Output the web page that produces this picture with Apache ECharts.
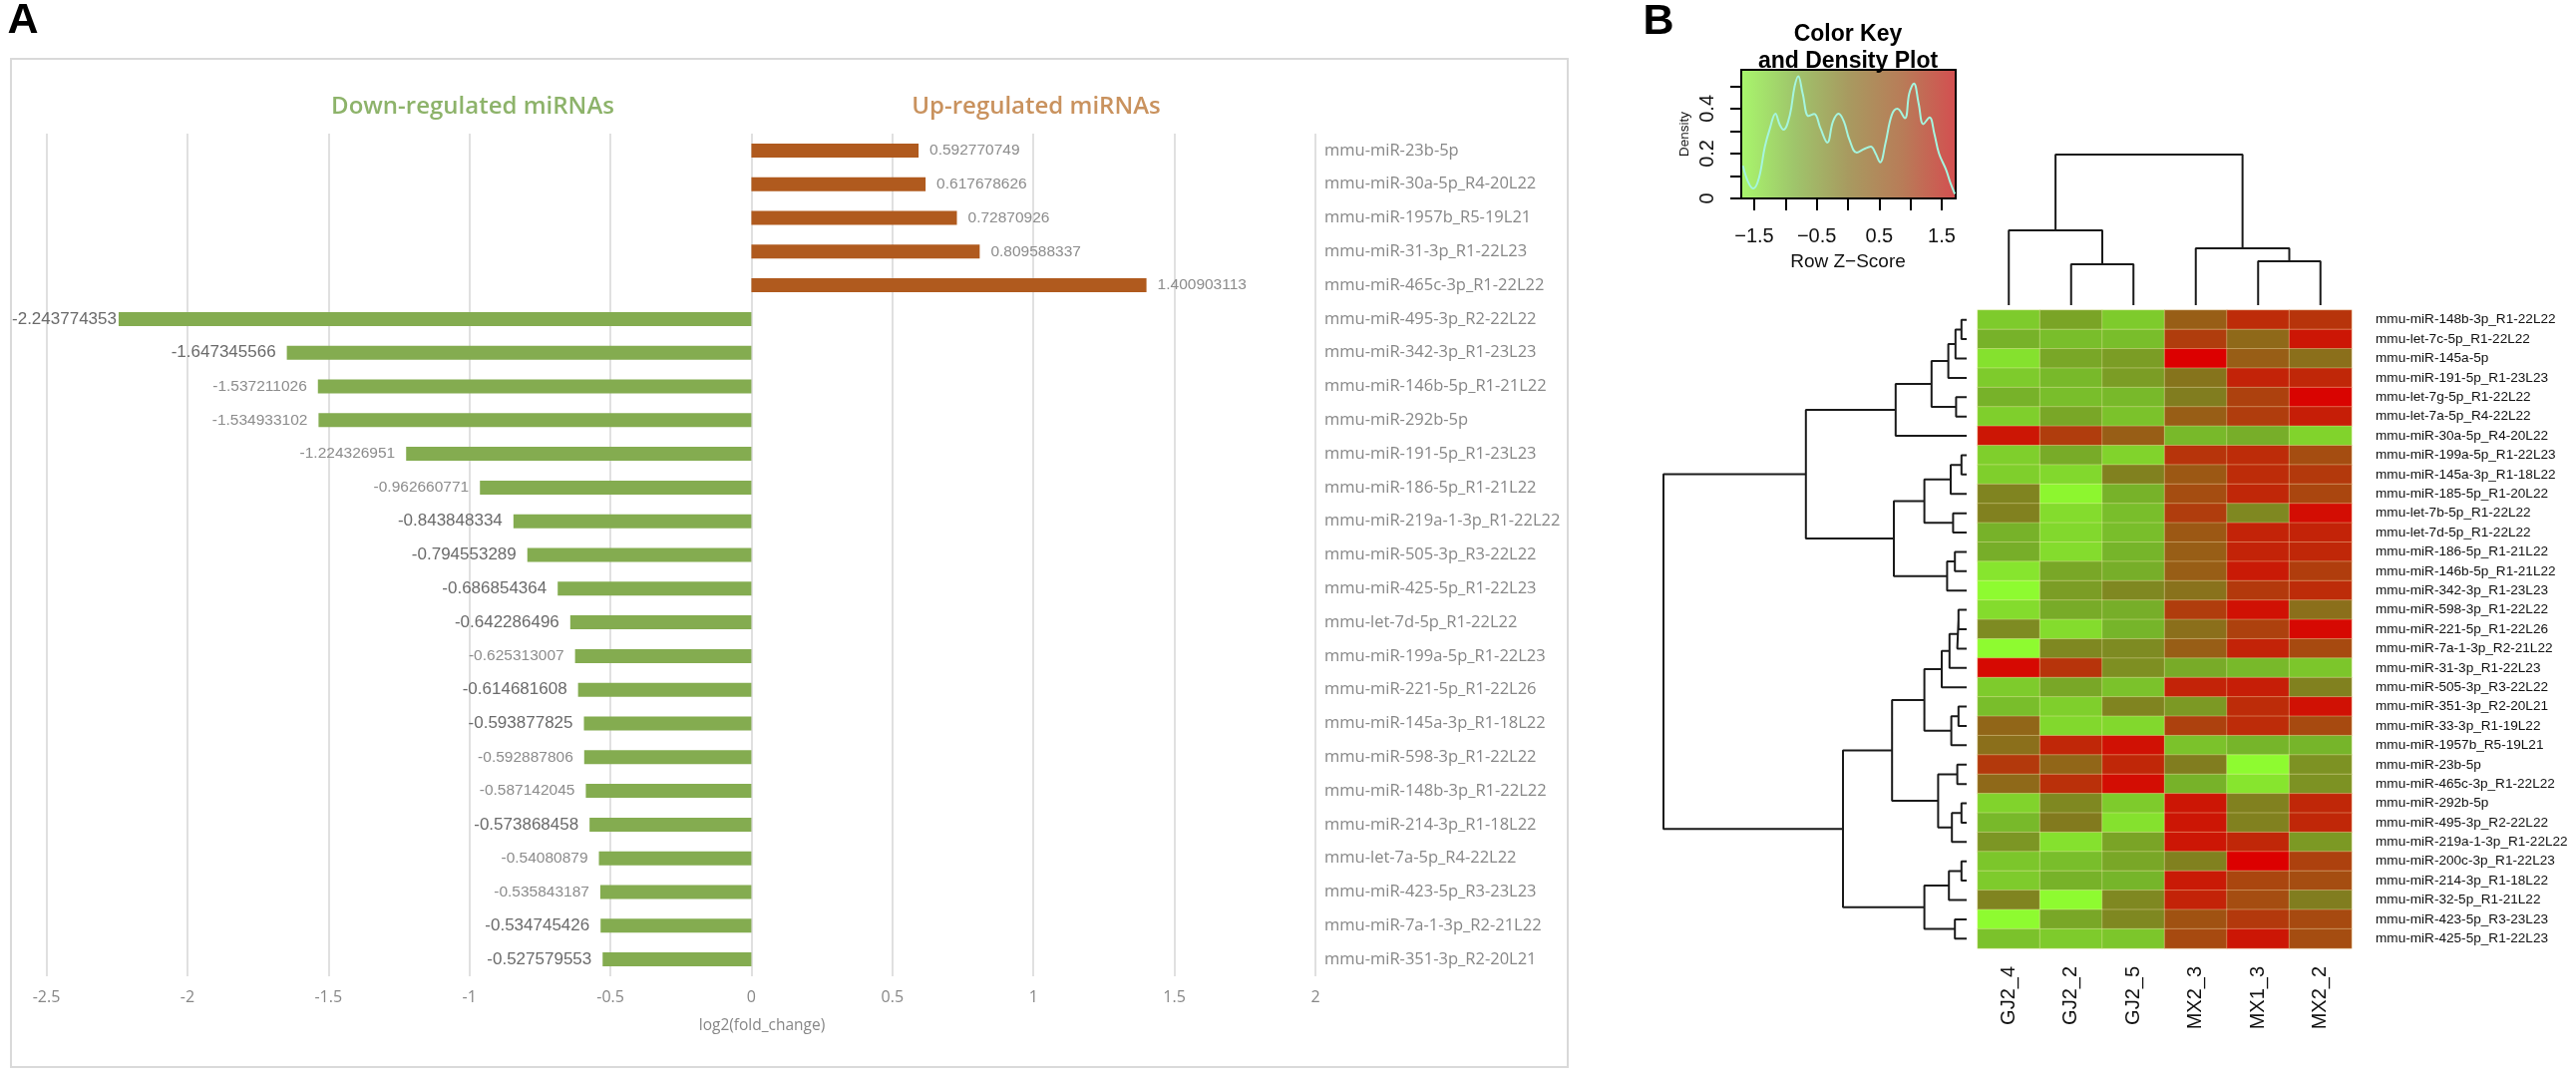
<!DOCTYPE html>
<html>
<head>
<meta charset="utf-8">
<style>html,body{margin:0;padding:0;background:#fff}#c{width:2583px;height:1080px}</style>
<script src="https://cdn.jsdelivr.net/npm/echarts@6/dist/echarts.min.js"></script>
</head>
<body>
<div id="c"></div>
<script>
// ---------- Panel A data ----------
const barLabels = ['mmu-miR-23b-5p','mmu-miR-30a-5p_R4-20L22','mmu-miR-1957b_R5-19L21','mmu-miR-31-3p_R1-22L23','mmu-miR-465c-3p_R1-22L22','mmu-miR-495-3p_R2-22L22','mmu-miR-342-3p_R1-23L23','mmu-miR-146b-5p_R1-21L22','mmu-miR-292b-5p','mmu-miR-191-5p_R1-23L23','mmu-miR-186-5p_R1-21L22','mmu-miR-219a-1-3p_R1-22L22','mmu-miR-505-3p_R3-22L22','mmu-miR-425-5p_R1-22L23','mmu-let-7d-5p_R1-22L22','mmu-miR-199a-5p_R1-22L23','mmu-miR-221-5p_R1-22L26','mmu-miR-145a-3p_R1-18L22','mmu-miR-598-3p_R1-22L22','mmu-miR-148b-3p_R1-22L22','mmu-miR-214-3p_R1-18L22','mmu-let-7a-5p_R4-22L22','mmu-miR-423-5p_R3-23L23','mmu-miR-7a-1-3p_R2-21L22','mmu-miR-351-3p_R2-20L21'];
const barValues = [0.592770749,0.617678626,0.72870926,0.809588337,1.400903113,-2.243774353,-1.647345566,-1.537211026,-1.534933102,-1.224326951,-0.962660771,-0.843848334,-0.794553289,-0.686854364,-0.642286496,-0.625313007,-0.614681608,-0.593877825,-0.592887806,-0.587142045,-0.573868458,-0.54080879,-0.535843187,-0.534745426,-0.527579553];
const darkLabelRows = [5,6,11,12,13,14,16,17,20,23,24];

// ---------- Panel B data ----------
const colLabels = ['GJ2_4','GJ2_2','GJ2_5','MX2_3','MX1_3','MX2_2'];
const rowLabels = ['mmu-miR-148b-3p_R1-22L22','mmu-let-7c-5p_R1-22L22','mmu-miR-145a-5p','mmu-miR-191-5p_R1-23L23','mmu-let-7g-5p_R1-22L22','mmu-let-7a-5p_R4-22L22','mmu-miR-30a-5p_R4-20L22','mmu-miR-199a-5p_R1-22L23','mmu-miR-145a-3p_R1-18L22','mmu-miR-185-5p_R1-20L22','mmu-let-7b-5p_R1-22L22','mmu-let-7d-5p_R1-22L22','mmu-miR-186-5p_R1-21L22','mmu-miR-146b-5p_R1-21L22','mmu-miR-342-3p_R1-23L23','mmu-miR-598-3p_R1-22L22','mmu-miR-221-5p_R1-22L26','mmu-miR-7a-1-3p_R2-21L22','mmu-miR-31-3p_R1-22L23','mmu-miR-505-3p_R3-22L22','mmu-miR-351-3p_R2-20L21','mmu-miR-33-3p_R1-19L22','mmu-miR-1957b_R5-19L21','mmu-miR-23b-5p','mmu-miR-465c-3p_R1-22L22','mmu-miR-292b-5p','mmu-miR-495-3p_R2-22L22','mmu-miR-219a-1-3p_R1-22L22','mmu-miR-200c-3p_R1-22L23','mmu-miR-214-3p_R1-18L22','mmu-miR-32-5p_R1-21L22','mmu-miR-423-5p_R3-23L23','mmu-miR-425-5p_R1-22L23'];
const zScores = [
[-1.1,-0.6,-1.1,0.5,1.2,1.1],[-0.8,-0.95,-0.95,1.0,0.3,1.45],[-1.35,-0.65,-0.5,1.7,0.5,0.2],[-1.1,-0.9,-0.5,0.1,1.3,1.25],
[-0.8,-0.95,-0.9,-0.05,0.95,1.65],[-1.15,-0.65,-1.0,0.5,1.0,1.35],[1.45,1.0,0.5,-0.9,-0.75,-1.2],[-1.15,-0.7,-1.2,1.1,1.2,0.8],
[-1.15,-1.25,-0.1,0.6,1.2,1.05],[-0.15,-1.6,-0.8,0.8,1.25,0.9],[-0.1,-1.3,-0.95,1.0,-0.2,1.55],[-0.8,-1.25,-0.95,0.6,1.3,1.3],
[-0.75,-1.3,-0.85,0.5,1.3,1.25],[-1.4,-0.65,-0.75,0.5,1.4,1.0],[-1.65,-0.5,-0.2,0.15,1.05,1.2],[-1.3,-0.7,-0.75,1.0,1.5,0.2],
[-0.25,-1.3,-0.85,0.2,0.95,1.6],[-1.65,-0.2,-0.25,0.5,1.3,0.85],[1.6,1.1,-0.3,-0.7,-0.9,-1.05],[-1.1,-0.65,-1.0,1.3,1.35,-0.1],
[-0.95,-1.15,-0.15,-0.45,1.2,1.5],[0.35,-1.25,-1.25,0.95,1.2,0.85],[0.2,1.25,1.5,-1.0,-0.85,-0.85],[1.05,0.35,1.25,-0.05,-1.65,-0.35],
[0.3,1.15,1.55,-0.8,-1.4,-0.35],[-1.2,-0.2,-1.1,1.45,-0.1,1.25],[-0.9,0,-1.35,1.45,-0.1,1.25],[-0.4,-1.35,-0.6,1.45,1.25,-0.45],
[-1.05,-0.95,-0.65,-0.1,1.7,0.95],[-1.1,-0.8,-0.85,1.4,0.9,0.8],[-0.15,-1.65,-0.2,1.3,0.8,-0.05],[-1.65,-0.65,-0.2,0.7,1.05,0.85],
[-1.0,-1.1,-1.05,0.85,1.45,0.8]];
// Dendrograms: [height, left, right]; numbers are leaf indexes.
const rowTree = [505,
  [267,
    [117,[57,[29,[17,[7,0,1],2],3],[16,4,5]],6],
    [120,[69,[25,[7,7,8],9],[21,10,11]],[31,[18,12,13],14]]],
  [205,
    [123,[69,[40,[27,[14,[12,15,16],17],18],19],[24,[12,20,21],22]],[46,[14,23,24],[23,[7,25,26],27]]],
    [69,[28,[7,28,29],30],[18,31,32]]]];
const colTree = [150,[74,0,[40,1,2]],[56,3,[43,4,5]]];
const densityX = [-1.68,-1.6,-1.515,-1.425,-1.33,-1.25,-1.16,-1.09,-1.03,-0.93,-0.855,-0.795,-0.725,-0.63,-0.54,-0.44,-0.33,-0.24,-0.15,-0.065,0.025,0.14,0.25,0.365,0.44,0.515,0.6,0.7,0.79,0.91,0.98,1.055,1.13,1.205,1.305,1.38,1.455,1.57,1.64,1.71];
const densityY = [0.145,0.075,0.044,0.09,0.23,0.31,0.377,0.327,0.306,0.371,0.497,0.544,0.467,0.367,0.376,0.312,0.249,0.342,0.377,0.342,0.26,0.204,0.219,0.231,0.201,0.161,0.246,0.371,0.399,0.357,0.467,0.512,0.423,0.331,0.361,0.29,0.201,0.127,0.068,0.02];

// ---------- helpers ----------
function dendroPath(tree, rowsMode){
  const out = [];
  const pt = (h,p)=> rowsMode ? [h,p] : [p,h];
  (function walk(n){
    if (typeof n === 'number') return {p:n+0.5,h:0};
    const a = walk(n[1]), b = walk(n[2]);
    out.push(pt(a.h,a.p),pt(n[0],a.p),pt(n[0],b.p),pt(b.h,b.p),[NaN,NaN]);
    return {p:(a.p+b.p)/2,h:n[0]};
  })(tree);
  return out;
}
const SANS = '"Liberation Sans",Arial,sans-serif';
const OPEN = '"Open Sans",sans-serif';
const GREY = '#878787';
const dendroSeries = (data,xi)=>({type:'line',xAxisIndex:xi,yAxisIndex:xi,data,showSymbol:false,symbol:'none',silent:true,clip:false,
  connectNulls:false,lineStyle:{color:'#1a1a1a',width:2,cap:'square'}});
const textEl = (text,x,y,font,fill,extra)=>Object.assign({type:'text',x,y,silent:true,
  style:{text,font,fill,textAlign:'center',textVerticalAlign:'middle'}},extra||{});

const chart = echarts.init(document.getElementById('c'),null,{width:2583,height:1080});
chart.setOption({
  animation:false,
  backgroundColor:'#fff',
  textStyle:{fontFamily:SANS},
  grid:[
    {left:46.5,top:134,width:1272.5,height:845},
    {left:1983,top:311,width:375,height:640},
    {left:1668,top:311,width:303,height:640},
    {left:1983,top:155,width:375,height:150},
    {left:1746,top:70,width:215,height:129,show:true,borderColor:'#000',borderWidth:2,
     backgroundColor:new echarts.graphic.LinearGradient(0,0,1,0,[
       {offset:0,color:'#a8f76c'},{offset:0.25,color:'#9fc56b'},{offset:0.5,color:'#a89a60'},{offset:0.75,color:'#b87c58'},{offset:1,color:'#d44e50'}])}
  ],
  xAxis:[
    {gridIndex:0,type:'value',min:-2.5,max:2,interval:0.5,axisLine:{show:false},axisTick:{show:false},
     axisLabel:{color:GREY,fontSize:16,margin:13,fontFamily:OPEN},splitLine:{show:true,lineStyle:{color:'#d9d9d9',width:1.6}}},
    {gridIndex:1,type:'category',data:colLabels,axisLine:{show:false},axisTick:{show:false},
     axisLabel:{rotate:90,color:'#111',fontSize:20,margin:18,interval:0}},
    {gridIndex:2,type:'value',inverse:true,min:0,max:505,show:false},
    {gridIndex:3,type:'value',min:0,max:6,show:false},
    {gridIndex:4,type:'value',min:-1.707,max:1.723,splitLine:{show:false},axisLine:{show:false,onZero:false},
     axisTick:{show:true,length:12,lineStyle:{color:'#000',width:2},customValues:[-1.5,-1,-0.5,0,0.5,1,1.5]},
     axisLabel:{color:'#111',fontSize:20,margin:28,customValues:[-1.5,-0.5,0.5,1.5],
       formatter:v=>String(v).replace('-','\u2212')}}
  ],
  yAxis:[
    {gridIndex:0,type:'category',inverse:true,position:'right',data:barLabels,axisLine:{show:false},axisTick:{show:false},
     axisLabel:{color:GREY,fontSize:16.5,margin:9,interval:0,fontFamily:OPEN}},
    {gridIndex:1,type:'category',inverse:true,position:'right',data:rowLabels,axisLine:{show:false},axisTick:{show:false},
     axisLabel:{color:'#111',fontSize:13.6,margin:24,interval:0}},
    {gridIndex:2,type:'value',inverse:true,min:0,max:33,show:false},
    {gridIndex:3,type:'value',min:0,max:150,show:false},
    {gridIndex:4,type:'value',min:0,max:0.5725,splitLine:{show:false},axisLine:{show:false,onZero:false},
     name:'Density',nameLocation:'middle',nameRotate:90,nameGap:50,nameTextStyle:{fontSize:13.5,color:'#111'},
     axisTick:{show:true,length:11,lineStyle:{color:'#000',width:2},customValues:[0,0.1,0.2,0.3,0.4,0.5]},
     axisLabel:{rotate:90,color:'#111',fontSize:20,margin:24,customValues:[0,0.2,0.4]}}
  ],
  visualMap:{show:false,seriesIndex:1,min:-1.7,max:1.7,dimension:2,
    inRange:{color:['#90ff30','#76b52a','#827a1e','#a74a10','#dc0000']}},
  series:[
    {type:'bar',xAxisIndex:0,yAxisIndex:0,barWidth:14,silent:true,
     data:barValues.map((v,i)=>({value:v,
       itemStyle:{color:v>0?'#b05a1e':'#84ac50'},
       label:Object.assign(darkLabelRows.includes(i)?{color:'#6a6a6a',fontSize:17}:{color:'#8c8c8c',fontSize:15.5},v<-2?{distance:2}:{})})),
     label:{show:true,position:'outside',distance:11,fontFamily:SANS,
       formatter:p=>String(p.value)}},
    {type:'heatmap',xAxisIndex:1,yAxisIndex:1,silent:true,
     data:zScores.flatMap((r,i)=>r.map((z,j)=>[j,i,z])),
     itemStyle:{borderColor:'rgba(255,240,190,0.35)',borderWidth:1}},
    dendroSeries(dendroPath(rowTree,true),2),
    dendroSeries(dendroPath(colTree,false),3),
    {type:'line',xAxisIndex:4,yAxisIndex:4,data:densityX.map((x,i)=>[x,densityY[i]]),smooth:0.4,showSymbol:false,symbol:'none',silent:true,
     lineStyle:{color:'#a5f5de',width:2}}
  ],
  graphic:[
    {type:'rect',silent:true,shape:{x:11,y:59,width:1561,height:1011},style:{fill:null,stroke:'#d9d9d9',lineWidth:2},z:-1},
    textEl('A',23,21,'bold 43px '+SANS,'#000'),
    textEl('B',1663,22,'bold 43px '+SANS,'#000'),
    textEl('Down-regulated miRNAs',474,107,'600 24px '+OPEN,'#8db36a'),
    textEl('Up-regulated miRNAs',1039,107,'600 24px '+OPEN,'#c9925e'),
    textEl('log2(fold_change)',764,1029,'15.5px '+OPEN,GREY),
    textEl('Color Key',1853,35,'bold 23px '+SANS,'#000'),
    textEl('and Density Plot',1853,62,'bold 23px '+SANS,'#000'),
    textEl('Row Z\u2212Score',1853,263,'19px '+SANS,'#111')
  ]
});
</script>
</body>
</html>
